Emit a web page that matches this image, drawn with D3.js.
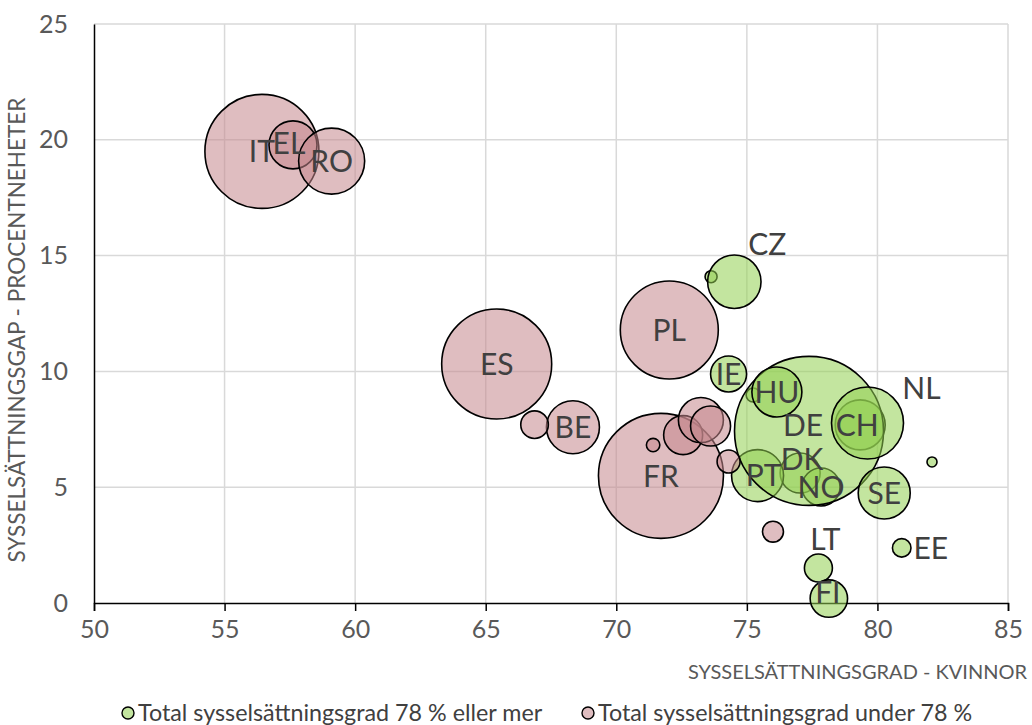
<!DOCTYPE html>
<html>
<head>
<meta charset="utf-8">
<script src="https://cdn.jsdelivr.net/npm/d3@7"></script>
<style>
  body { margin: 0; background: #fff; }
  text { font-family: Lato, "Open Sans", sans-serif; }
</style>
</head>
<body>
<div id="chart"></div>
<script>
// Total sysselsättningsgrad 78 % eller mer
var greenCodes = ["", "CZ", "IE", "CH", "DK", "NO", "PT", "", "DE", "HU", "NL", "SE", "LT", "FI", "EE", ""];
var greenRate  = [73.63, 74.52, 74.30, 79.34, 77.04, 77.84, 75.41, 75.24, 77.38, 76.15, 79.62, 80.26, 77.74, 78.14, 80.93, 82.09];
var greenGap   = [14.09, 13.87, 9.89, 7.69, 5.61, 5.01, 5.50, 8.98, 7.43, 9.11, 7.77, 4.75, 1.51, 0.19, 2.38, 6.09];
var greenSize  = [0.36, 7.13, 3.24, 6.25, 4.0, 3.61, 6.76, 0.49, 55.5, 6.25, 12.96, 6.76, 1.96, 3.5, 0.86, 0.25];

// Total sysselsättningsgrad under 78 %
var pinkCodes = ["IT", "EL", "RO", "ES", "PL", "FR", "BE", "", "", "", "", "", "", ""];
var pinkRate  = [56.43, 57.62, 59.10, 65.42, 72.03, 71.71, 68.34, 66.87, 71.41, 72.56, 73.24, 73.61, 74.30, 76.00];
var pinkGap   = [19.50, 19.78, 19.08, 10.32, 11.79, 5.49, 7.59, 7.70, 6.82, 7.25, 7.90, 7.64, 6.11, 3.08];
var pinkSize  = [32.5, 5.76, 10.9, 30.25, 24.0, 39.06, 7.02, 1.9, 0.45, 3.8, 5.06, 4.0, 1.32, 1.1];

var xTicks = [50, 55, 60, 65, 70, 75, 80, 85];
var yTicks = [0, 5, 10, 15, 20, 25];

var seriesNames = ["Total sysselsättningsgrad 78 % eller mer", "Total sysselsättningsgrad under 78 %"];
var xTitle = "SYSSELSÄTTNINGSGRAD - KVINNOR";
var yTitle = "SYSSELSÄTTNINGSGAP - PROCENTNEHETER";

var width = 1032, height = 725;
var plotLeft = 94, plotRight = 1008, plotTop = 24, plotBottom = 603;

var greenFill = "#92d050", pinkFill = "#c4868c";

// labels that were moved away from the bubble centre in the original
var labelShift = {
    "CZ": [33, -38], "NL": [54, -35], "LT": [7, -29], "EE": [29, 0],
    "DK": [2, -14], "PT": [6, 0], "FI": [-1, -6], "EL": [-4, -2], "CH": [-3, 0],
    "DE": [-6, -6]
};

var x = d3.scaleLinear().domain([50, 85]).range([plotLeft, plotRight]);
var y = d3.scaleLinear().domain([0, 25]).range([plotBottom, plotTop]);
var r = d3.scaleSqrt().domain([0, d3.max(greenSize)]).range([0, 74.5]);

var svg = d3.select("#chart").append("svg")
    .attr("width", width)
    .attr("height", height);

// gridlines
svg.append("g").selectAll("line")
    .data(xTicks.slice(1))
    .enter().append("line")
    .attr("x1", function (d) { return x(d); })
    .attr("x2", function (d) { return x(d); })
    .attr("y1", plotTop).attr("y2", plotBottom)
    .style("stroke", "#d9d9d9").style("stroke-width", 1.5);

svg.append("g").selectAll("line")
    .data(yTicks.slice(1))
    .enter().append("line")
    .attr("y1", function (d) { return y(d); })
    .attr("y2", function (d) { return y(d); })
    .attr("x1", plotLeft).attr("x2", plotRight)
    .style("stroke", "#d9d9d9").style("stroke-width", 1.5);

// axes
var xAxis = svg.append("g")
    .attr("transform", "translate(0," + plotBottom + ")")
    .call(d3.axisBottom(x).tickValues(xTicks).tickSize(8).tickPadding(9));
var yAxis = svg.append("g")
    .attr("transform", "translate(" + plotLeft + ",0)")
    .call(d3.axisLeft(y).tickValues(yTicks).tickSize(0).tickPadding(26));

[xAxis, yAxis].forEach(function (a) {
    a.select(".domain").style("stroke", "#000").style("stroke-width", 1.5);
    a.selectAll(".tick line").style("stroke", "#000").style("stroke-width", 1.5);
    a.selectAll(".tick text")
        .style("font-family", "Lato")
        .style("font-size", "25px")
        .style("fill", "#595959");
});

var makeSeries = function (codes, rate, gap, size) {
    return codes.map(function (c, i) {
        return { code: c, rate: rate[i], gap: gap[i], size: size[i] };
    });
};
var green = makeSeries(greenCodes, greenRate, greenGap, greenSize);
var pink = makeSeries(pinkCodes, pinkRate, pinkGap, pinkSize);

var drawBubbles = function (data, fill) {
    svg.append("g").selectAll("circle")
        .data(data)
        .enter().append("circle")
        .attr("cx", function (d) { return x(d.rate); })
        .attr("cy", function (d) { return y(d.gap); })
        .attr("r", function (d) { return r(d.size); })
        .style("fill", fill)
        .style("fill-opacity", 0.55)
        .style("stroke", "#000")
        .style("stroke-width", 1.6);
};
drawBubbles(green, greenFill);
drawBubbles(pink, pinkFill);

// country labels on top
svg.append("g").selectAll("text")
    .data(green.concat(pink).filter(function (d) { return d.code !== ""; }))
    .enter().append("text")
    .attr("x", function (d) { return x(d.rate) + (labelShift[d.code] ? labelShift[d.code][0] : 0); })
    .attr("y", function (d) { return y(d.gap) + (labelShift[d.code] ? labelShift[d.code][1] : 0); })
    .attr("dy", "0.36em")
    .attr("text-anchor", "middle")
    .style("font-size", "30px")
    .style("fill", "#404040")
    .text(function (d) { return d.code; });

// axis titles
svg.append("text")
    .attr("x", 1027).attr("y", 679)
    .attr("text-anchor", "end")
    .style("font-size", "20px")
    .style("fill", "#595959")
    .text(xTitle);

svg.append("text")
    .attr("transform", "translate(25,330) rotate(-90)")
    .attr("text-anchor", "middle")
    .style("font-size", "22.5px")
    .style("fill", "#595959")
    .text(yTitle);

// legend
var legend = svg.append("g").selectAll("g")
    .data(seriesNames)
    .enter().append("g")
    .attr("transform", function (d, i) { return "translate(" + (i ? 588 : 128) + ",713)"; });

legend.append("circle")
    .attr("r", 6)
    .style("fill", function (d, i) { return i ? pinkFill : greenFill; })
    .style("fill-opacity", 0.55)
    .style("stroke", "#000")
    .style("stroke-width", 1.4);

legend.append("text")
    .attr("x", 10)
    .attr("dy", "0.36em")
    .style("font-size", "23.3px")
    .style("fill", "#404040")
    .text(function (d) { return d; });
</script>
</body>
</html>
